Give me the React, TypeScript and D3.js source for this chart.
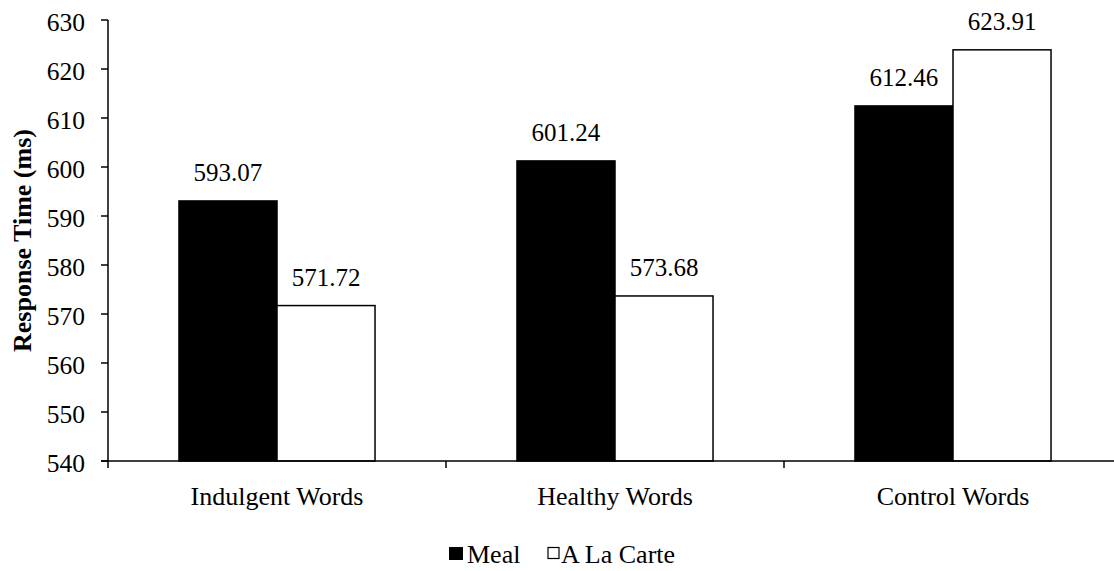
import React from "react";
import * as d3 from "d3";

const categories = ["Indulgent Words", "Healthy Words", "Control Words"];
const seriesNames = ["Meal", "A La Carte"];
const mealValues = [593.07, 601.24, 612.46];
const alaCarteValues = [571.72, 573.68, 623.91];
const yTicks = [540, 550, 560, 570, 580, 590, 600, 610, 620, 630];

const W = 1114;
const H = 571;
const FONT = "Liberation Serif";

export default function App() {
  const left = 108;
  const top = 20;
  const bottom = 461;
  const right = 1122;

  const x = d3
    .scaleBand<string>()
    .domain(categories)
    .range([left, right])
    .paddingInner(0.42)
    .paddingOuter(0.21);
  const xs = d3
    .scaleBand<string>()
    .domain(seriesNames)
    .range([0, x.bandwidth()])
    .padding(0);
  const y = d3.scaleLinear().domain([540, 630]).range([bottom, top]);

  const series = [
    { name: seriesNames[0], values: mealValues, fill: "#000000" },
    { name: seriesNames[1], values: alaCarteValues, fill: "#ffffff" },
  ];

  const step = x.step();
  const boundaries = categories.map((_, i) => left + step * (i + 1));
  const txt = { fontFamily: FONT };

  return (
    <svg
      width={W}
      height={H}
      style={{ position: "absolute", left: 0, top: 0, background: "#fff" }}
    >
      <rect x={0} y={0} width={W} height={H} fill="#fff" />
      {/* bars */}
      {series.map((s) =>
        categories.map((c, i) => {
          const bx = (x(c) ?? 0) + (xs(s.name) ?? 0);
          const by = y(s.values[i]);
          return (
            <rect
              key={s.name + c}
              x={bx}
              y={by}
              width={xs.bandwidth()}
              height={bottom - by}
              fill={s.fill}
              stroke="#000"
              strokeWidth={1.5}
            />
          );
        })
      )}
      {/* value labels */}
      {series.map((s) =>
        categories.map((c, i) => {
          const cx = (x(c) ?? 0) + (xs(s.name) ?? 0) + xs.bandwidth() / 2;
          return (
            <text
              key={"l" + s.name + c}
              x={cx}
              y={y(s.values[i]) - 19.5}
              textAnchor="middle"
              fontSize={25}
              fill="#000"
              style={txt}
            >
              {s.values[i].toFixed(2)}
            </text>
          );
        })
      )}
      {/* y axis */}
      <line x1={left} x2={left} y1={top} y2={bottom} stroke="#000" strokeWidth={1.5} />
      {yTicks.map((t) => (
        <g key={t}>
          <line x1={left - 7} x2={left} y1={y(t)} y2={y(t)} stroke="#000" strokeWidth={1.5} />
          <text
            x={left - 23}
            y={y(t) + 10.5}
            textAnchor="end"
            fontSize={25.5}
            fill="#000"
            style={txt}
          >
            {t}
          </text>
        </g>
      ))}
      {/* x axis */}
      <line x1={left - 7} x2={right} y1={bottom} y2={bottom} stroke="#000" strokeWidth={1.5} />
      {[left, ...boundaries].map((bx, i) => (
        <line key={"xt" + i} x1={bx} x2={bx} y1={bottom} y2={bottom + 7} stroke="#000" strokeWidth={1.5} />
      ))}
      {categories.map((c) => (
        <text
          key={"c" + c}
          x={(x(c) ?? 0) + x.bandwidth() / 2}
          y={505}
          textAnchor="middle"
          fontSize={26}
          fill="#000"
          style={txt}
        >
          {c}
        </text>
      ))}
      {/* y axis title */}
      <text
        transform={`translate(31,${(top + bottom) / 2}) rotate(-90)`}
        textAnchor="middle"
        fontSize={26}
        fontWeight="bold"
        fill="#000"
        style={txt}
      >
        Response Time (ms)
      </text>
      {/* legend */}
      <rect x={449} y={547} width={14} height={13} fill="#000" />
      <text x={467} y={563} fontSize={26} fill="#000" style={txt}>
        {seriesNames[0]}
      </text>
      <rect x={548} y={547.5} width={11} height={11} fill="#fff" stroke="#000" strokeWidth={1.2} />
      <text x={561} y={563} fontSize={26} fill="#000" style={txt}>
        {seriesNames[1]}
      </text>
    </svg>
  );
}
